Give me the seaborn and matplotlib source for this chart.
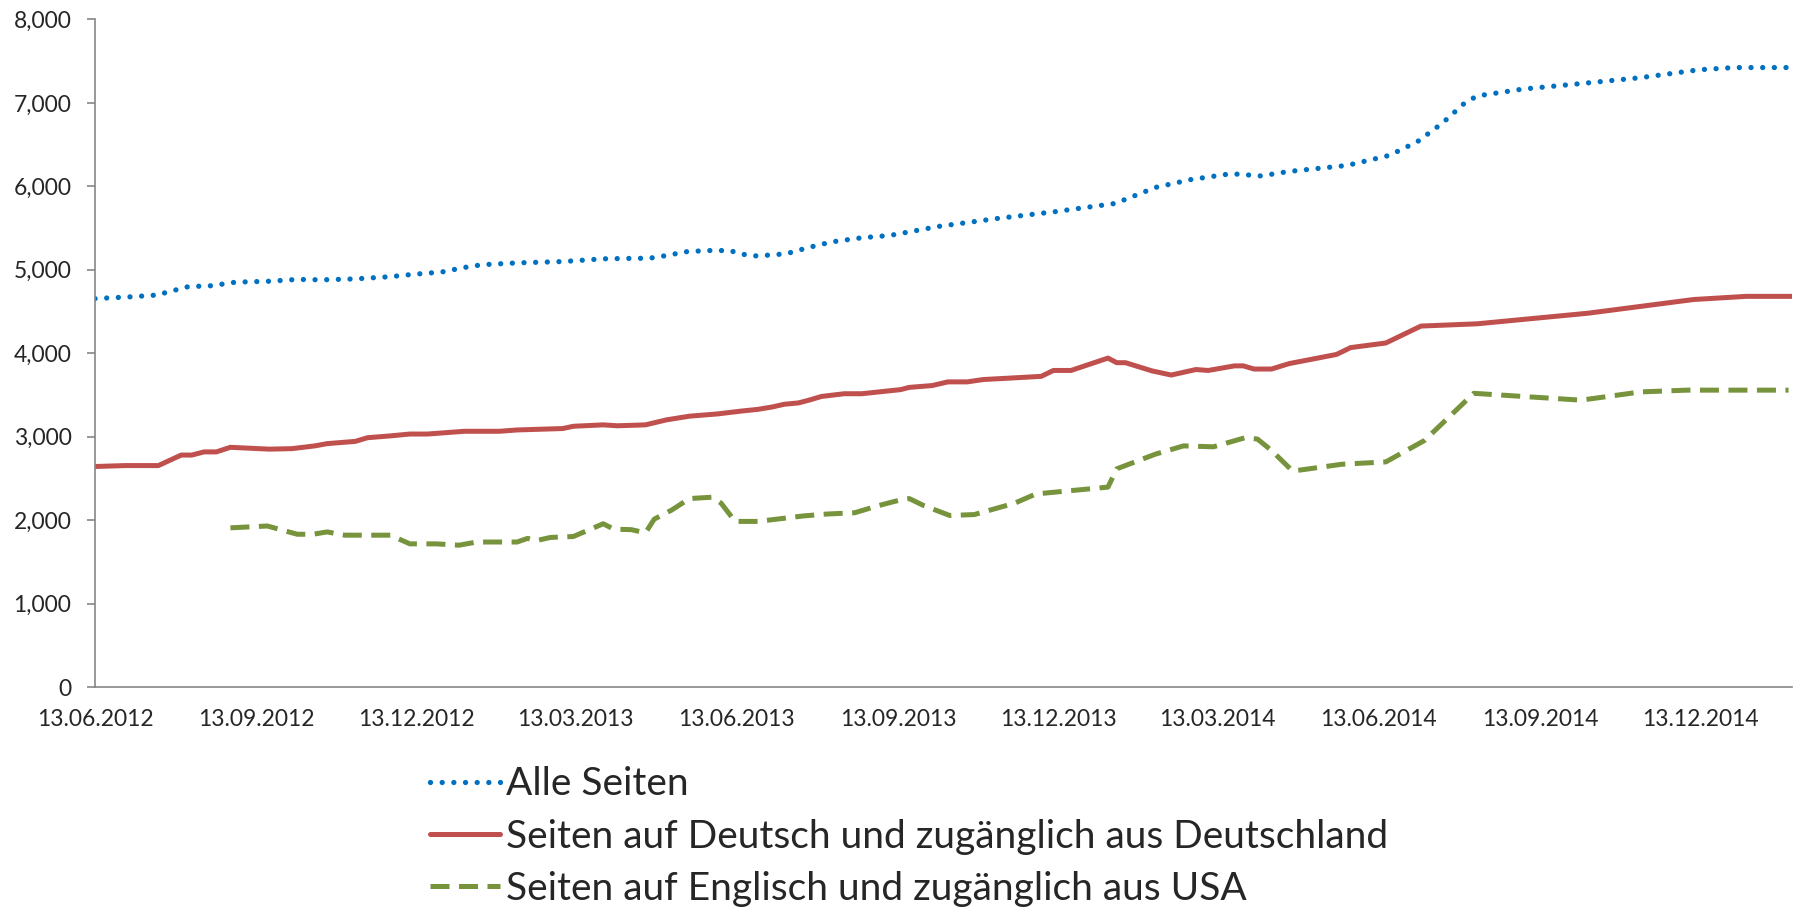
import pandas as pd
import seaborn as sns
import matplotlib.pyplot as plt
import matplotlib.dates as mdates
from matplotlib.ticker import FuncFormatter, MultipleLocator

# Werte
alle_datum = ['2012-06-13', '2012-07-04', '2012-07-19', '2012-07-23', '2012-08-05', '2012-08-18',
              '2012-09-01', '2012-09-20', '2012-10-06', '2012-10-20', '2012-11-08', '2012-11-28',
              '2012-12-11', '2012-12-27', '2013-01-09', '2013-01-19', '2013-02-08', '2013-03-06',
              '2013-03-29', '2013-04-17', '2013-04-24', '2013-05-07', '2013-05-13', '2013-05-27',
              '2013-06-09', '2013-06-15', '2013-06-22', '2013-07-01', '2013-07-11', '2013-07-24',
              '2013-08-06', '2013-08-23', '2013-09-08', '2013-10-06', '2013-11-08', '2013-12-11',
              '2014-01-14', '2014-01-24', '2014-02-06', '2014-02-26', '2014-03-21', '2014-04-07',
              '2014-04-23', '2014-05-26', '2014-06-19', '2014-07-05', '2014-07-19', '2014-08-01',
              '2014-08-08', '2014-09-03', '2014-10-06', '2014-11-09', '2014-12-12', '2015-01-01',
              '2015-02-01']
alle_werte = [4655, 4677, 4699, 4726, 4798, 4809, 4852, 4863, 4885, 4880, 4891, 4918,
              4946, 4973, 5028, 5061, 5083, 5099, 5132, 5138, 5138, 5181, 5214, 5231,
              5231, 5192, 5165, 5176, 5192, 5269, 5335, 5384, 5412, 5521, 5615, 5697,
              5795, 5878, 5987, 6081, 6152, 6125, 6179, 6251, 6371, 6536, 6755, 7002,
              7084, 7166, 7232, 7303, 7397, 7424, 7424]

de_datum = ['2012-06-13', '2012-06-30', '2012-07-19', '2012-08-01', '2012-08-07', '2012-08-14',
            '2012-08-21', '2012-08-29', '2012-09-20', '2012-10-03', '2012-10-16', '2012-10-23',
            '2012-11-08', '2012-11-15', '2012-11-28', '2012-12-09', '2012-12-19', '2013-01-09',
            '2013-01-29', '2013-02-08', '2013-03-06', '2013-03-12', '2013-03-29', '2013-04-06',
            '2013-04-22', '2013-05-04', '2013-05-17', '2013-06-02', '2013-06-15', '2013-06-25',
            '2013-07-03', '2013-07-10', '2013-07-18', '2013-07-24', '2013-07-31', '2013-08-13',
            '2013-08-23', '2013-09-14', '2013-09-19', '2013-10-02', '2013-10-11', '2013-10-22',
            '2013-10-31', '2013-12-03', '2013-12-10', '2013-12-20', '2014-01-10', '2014-01-15',
            '2014-01-20', '2014-02-04', '2014-02-15', '2014-03-01', '2014-03-08', '2014-03-23',
            '2014-03-28', '2014-04-03', '2014-04-13', '2014-04-23', '2014-05-20', '2014-05-28',
            '2014-06-17', '2014-07-07', '2014-08-08', '2014-10-10', '2014-12-09', '2015-01-08',
            '2015-02-03']
de_werte = [2643, 2654, 2654, 2780, 2780, 2818, 2818, 2873, 2851, 2857, 2890, 2917,
            2944, 2988, 3010, 3032, 3032, 3065, 3065, 3081, 3098, 3125, 3142, 3131,
            3142, 3202, 3246, 3273, 3306, 3328, 3356, 3389, 3405, 3438, 3482, 3515,
            3515, 3564, 3591, 3613, 3657, 3657, 3685, 3723, 3794, 3794, 3942, 3887,
            3887, 3789, 3739, 3805, 3794, 3849, 3849, 3811, 3811, 3876, 3986, 4068,
            4123, 4326, 4353, 4480, 4644, 4682, 4682]

us_datum = ['2012-08-29', '2012-09-19', '2012-10-06', '2012-10-15', '2012-10-23', '2012-11-02',
            '2012-11-28', '2012-12-09', '2012-12-24', '2013-01-06', '2013-01-16', '2013-02-08',
            '2013-02-14', '2013-02-19', '2013-02-27', '2013-03-12', '2013-03-29', '2013-04-04',
            '2013-04-14', '2013-04-22', '2013-04-27', '2013-05-07', '2013-05-17', '2013-05-30',
            '2013-06-04', '2013-06-12', '2013-06-25', '2013-07-21', '2013-08-03', '2013-08-19',
            '2013-09-02', '2013-09-14', '2013-09-19', '2013-09-27', '2013-10-12', '2013-10-26',
            '2013-11-18', '2013-11-30', '2014-01-10', '2014-01-15', '2014-02-06', '2014-02-22',
            '2014-03-11', '2014-03-29', '2014-04-05', '2014-04-13', '2014-04-25', '2014-05-23',
            '2014-06-17', '2014-07-09', '2014-08-06', '2014-10-06', '2014-11-09', '2014-12-05',
            '2015-02-01']
us_werte = [1908, 1930, 1831, 1831, 1859, 1820, 1820, 1716, 1716, 1700, 1738, 1738,
            1782, 1755, 1793, 1804, 1957, 1892, 1886, 1848, 2012, 2122, 2259, 2275,
            2204, 1985, 1985, 2051, 2073, 2089, 2177, 2243, 2259, 2177, 2056, 2067,
            2204, 2314, 2396, 2615, 2791, 2890, 2879, 2988, 2972, 2835, 2588, 2670,
            2698, 2955, 3520, 3438, 3537, 3558, 3558]

labels = ['Alle Seiten',
          'Seiten auf Deutsch und zugänglich aus Deutschland',
          'Seiten auf Englisch und zugänglich aus USA']
tick_daten = ['2012-06-13', '2012-09-13', '2012-12-13', '2013-03-13', '2013-06-13',
              '2013-09-13', '2013-12-13', '2014-03-13', '2014-06-13', '2014-09-13', '2014-12-13']

sns.set_style('white')
plt.rcParams['font.family'] = ['Lato', 'DejaVu Sans']

fig = plt.figure(figsize=(17.96, 9.10), dpi=100)
ax = fig.add_axes([0.0529, 0.245, 0.9449, 0.7336])

sns.lineplot(x=pd.to_datetime(alle_datum), y=alle_werte, ax=ax, color='#0070C0',
             linewidth=3.8, linestyle=(0, (0.01, 2.2)), dash_capstyle='round', label=labels[0])
sns.lineplot(x=pd.to_datetime(de_datum), y=de_werte, ax=ax, color='#C0504D',
             linewidth=3.6, label=labels[1])
sns.lineplot(x=pd.to_datetime(us_datum), y=us_werte, ax=ax, color='#77933C',
             linewidth=3.6, linestyle=(0, (3.8, 1.9)), label=labels[2])

ax.set_xlim(pd.Timestamp('2012-06-13'), pd.Timestamp('2015-02-03'))
ax.set_ylim(0, 8000)
ax.yaxis.set_major_locator(MultipleLocator(1000))
ax.yaxis.set_major_formatter(FuncFormatter(lambda v, p: f'{v:,.0f}'))
ax.set_xticks(pd.to_datetime(tick_daten))
ax.xaxis.set_major_formatter(mdates.DateFormatter('%d.%m.%Y'))
ax.set_xlabel('')
ax.set_ylabel('')

for s in ['top', 'right']:
    ax.spines[s].set_visible(False)
for s in ['left', 'bottom']:
    ax.spines[s].set_color('#868686')
    ax.spines[s].set_linewidth(1.2)
ax.tick_params(axis='y', length=6, width=1.2, color='#868686', direction='out',
               left=True, pad=11, labelsize=16.5)
ax.tick_params(axis='x', length=0, pad=16, labelsize=16.5)

handles, labs = ax.get_legend_handles_labels()
ax.get_legend().remove()
fig.legend(handles, labs, loc='upper left', bbox_to_anchor=(0.2394, 0.158), frameon=False,
           fontsize=28, handlelength=1.8, handletextpad=0.15, labelspacing=0.42,
           borderpad=0, borderaxespad=0)

plt.savefig('out.png', dpi=100)
